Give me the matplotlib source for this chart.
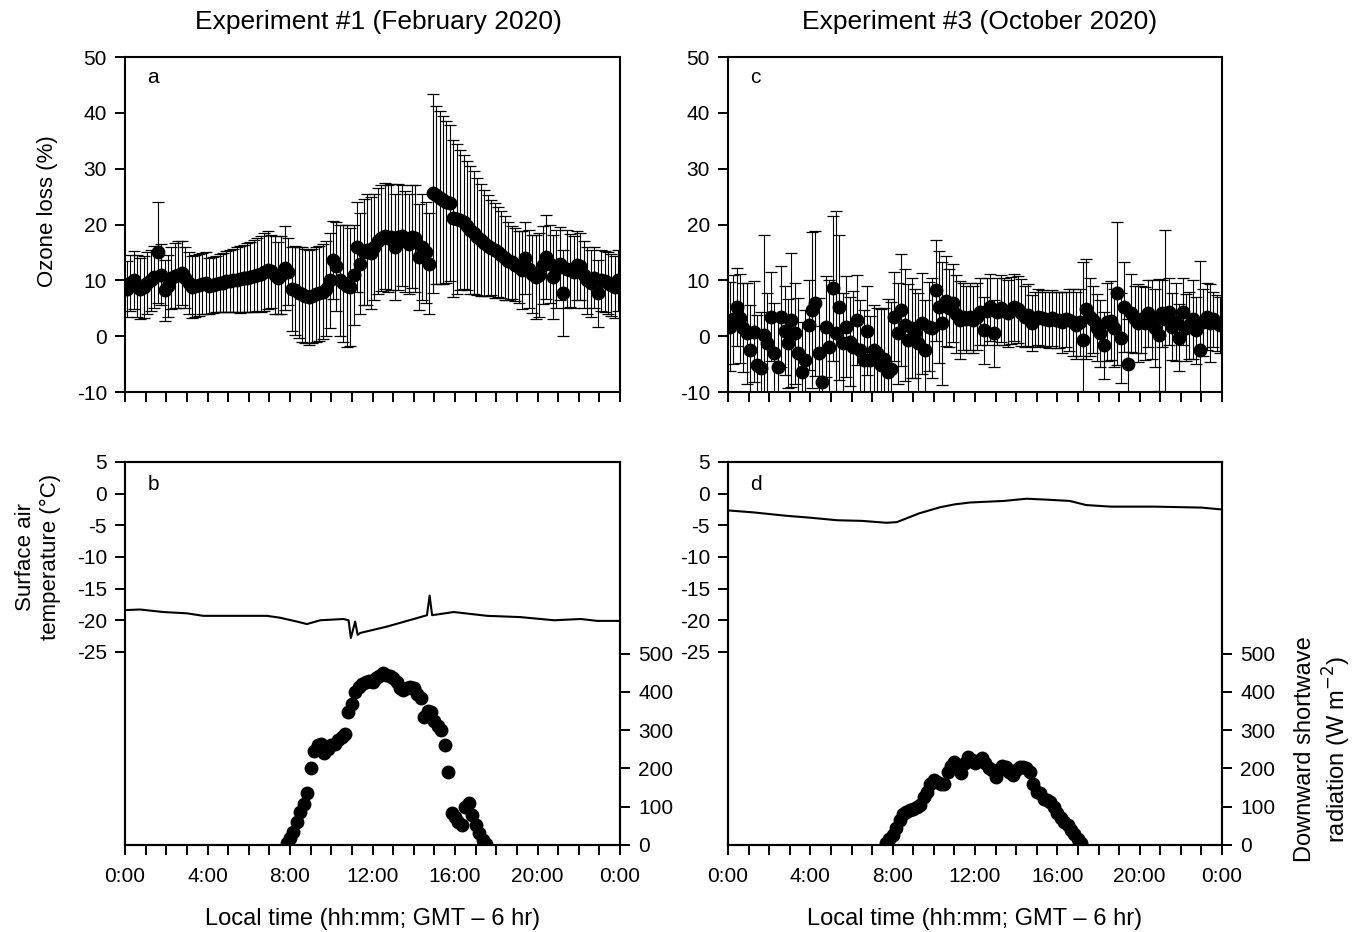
import numpy as np
import matplotlib
matplotlib.use("Agg")
import matplotlib.pyplot as plt

plt.rcParams["font.family"] = ["Liberation Sans", "DejaVu Sans"]
plt.rcParams["axes.unicode_minus"] = False

# ── Data ─────────────────────────────────────────────────────────────────────
# Ozone loss (%), 10-min means and standard deviations, 0:00 -> 24:00
ozone1 = [
    8.5, 9.5, 10.0, 9.0, 8.5, 8.8,
    9.5, 10.0, 10.6, 15.0, 11.0, 8.2,
    9.0, 10.4, 10.8, 11.0, 11.3, 10.5,
    9.5, 8.8, 9.0, 9.2, 9.4, 9.5,
    9.0, 9.2, 9.4, 9.5, 9.6, 9.8,
    9.9, 10.0, 10.1, 10.2, 10.4, 10.5,
    10.6, 10.8, 11.0, 11.2, 11.5, 11.8,
    11.6, 11.0, 10.4, 11.0, 12.2, 11.5,
    8.5, 8.2, 7.8, 7.5, 7.2, 7.0,
    7.2, 7.5, 7.7, 8.0, 8.5, 10.0,
    13.6, 12.5, 10.0, 9.5, 9.0, 8.8,
    11.0, 16.0, 13.0, 15.0, 15.5, 14.9,
    16.0, 17.0, 17.6, 18.0, 17.5, 17.8,
    16.0, 17.8, 18.0, 17.0, 16.5, 17.8,
    17.5, 14.2, 16.0, 15.0, 13.0, 25.6,
    25.3, 24.8, 24.4, 24.0, 23.8, 21.1,
    21.0, 20.8, 20.5, 19.8, 19.0, 18.5,
    17.8, 17.2, 16.7, 16.2, 15.8, 15.4,
    15.1, 14.6, 14.0, 13.5, 13.2, 12.8,
    12.4, 11.8, 14.0, 12.0, 11.2, 10.6,
    11.0, 12.8, 14.2, 13.0, 10.6, 12.0,
    13.0, 7.7, 12.0, 11.8, 11.5, 12.7,
    12.5, 11.0, 10.0, 9.5, 10.5, 7.7,
    10.0, 9.8, 9.5, 9.2, 8.8, 10.0,
]
ozone1_sd = [
    5.0, 5.0, 5.2, 5.5, 5.5, 5.5,
    5.5, 5.5, 5.5, 9.0, 5.5, 5.5,
    5.5, 5.5, 5.8, 6.0, 5.8, 5.5,
    5.5, 5.5, 5.5, 5.5, 5.5, 5.5,
    5.0, 5.0, 5.0, 5.2, 5.3, 5.4,
    5.5, 5.6, 5.8, 6.0, 6.0, 6.2,
    6.2, 6.5, 6.5, 6.8, 7.0, 7.0,
    6.5, 7.0, 6.5, 7.0, 7.5, 6.0,
    7.5, 8.0, 8.2, 8.5, 8.5, 8.5,
    8.5, 8.5, 8.5, 8.5, 8.5, 8.5,
    7.0, 8.0, 10.0, 10.5, 11.0, 10.5,
    9.0, 8.0, 9.0, 9.5, 10.0, 10.0,
    9.5, 9.5, 9.5, 9.5, 9.5, 9.5,
    9.5, 9.5, 9.0, 9.0, 9.0, 9.2,
    9.5, 9.5, 9.5, 9.0, 9.0, 17.8,
    16.0, 15.5, 15.0, 14.5, 14.0, 14.0,
    13.5, 12.5, 12.0, 11.5, 11.5, 11.0,
    10.5, 10.0, 9.5, 9.0, 8.5, 8.5,
    8.0, 7.8, 7.5, 7.0, 6.5, 6.5,
    6.5, 7.0, 6.5, 7.0, 7.0, 7.5,
    7.5, 7.0, 7.5, 7.0, 7.5, 7.0,
    6.5, 7.7, 7.0, 6.5, 6.5, 6.2,
    6.0, 6.0, 6.0, 6.0, 5.5, 6.0,
    5.5, 5.5, 5.5, 5.5, 5.5, 5.5,
]
ozone3 = [
    1.7, 3.0, 5.2, 3.2, 1.5, 0.5,
    -2.5, 0.8, -5.2, -5.7, 0.2, -1.3,
    3.5, -3.1, -5.5, 3.5, 1.0, -1.3,
    2.9, 0.5, -3.1, -6.4, -4.3, 2.0,
    4.7, 5.9, -3.1, -8.2, 1.7, -1.9,
    8.6, 0.5, 5.2, -1.3, 1.7, -1.0,
    -1.9, 2.9, -2.5, -4.3, 1.0, -4.3,
    -2.5, -3.0, -5.2, -4.0, -6.4, -5.8,
    3.5, 0.5, 4.7, 2.0, -0.7, 1.5,
    0.5, -1.3, 2.3, -2.5, 1.7, 1.5,
    8.2, 5.2, 2.3, 6.3, 5.0, 6.0,
    4.0, 2.9, 3.5, 3.0, 3.5, 2.9,
    3.5, 4.4, 1.1, 4.5, 5.2, 0.5,
    4.4, 5.0, 4.5, 4.1, 4.6, 5.2,
    4.8, 4.2, 3.5, 3.8, 2.3, 3.0,
    3.5, 3.2, 3.0, 2.9, 3.2, 2.9,
    2.9, 2.5, 3.0, 2.9, 2.5, 2.0,
    2.5, -0.7, 4.9, 3.5, 2.9, 1.5,
    0.5, -1.6, 2.6, 2.8, 1.5, 7.7,
    -0.3, 5.2, -4.9, 4.1, 3.0, 2.3,
    3.0, 2.3, 4.1, 3.0, 1.5, 0.2,
    4.1, 3.0, 4.4, 1.7, 2.5, -0.3,
    4.4, 1.5, 2.0, 3.0, 1.1, -2.5,
    2.5, 3.5, 2.3, 3.0, 2.3, 2.0,
]
ozone3_sd = [
    8, 8, 7, 8, 8, 9,
    8, 9, 9, 10, 18, 9,
    8, 9, 9, 9, 8, 8,
    12, 9, 10, 9, 9, 8,
    14, 13, 10, 10, 9, 12,
    13, 22, 13, 9, 9, 8,
    10, 8, 9, 9, 8, 8,
    8, 8, 10, 9, 13, 12,
    8, 9, 10, 10, 10, 9,
    8, 9, 9, 9, 8, 9,
    9, 10, 11, 8, 7, 7,
    7, 7, 6, 6, 6, 6,
    6, 6, 6, 6, 6, 6,
    6, 6, 6, 6, 6, 6,
    6, 6, 5.5, 5.5, 5, 5,
    5, 5, 5, 5, 5, 5,
    5, 5.5, 5, 5.5, 6, 6,
    6, 14, 9, 7, 6, 6,
    6, 6, 7, 7, 7, 12.8,
    8, 8, 8, 7, 6, 7,
    6, 6.5, 6, 7, 7, 10,
    6, 16, 6, 6, 7, 6,
    6, 6, 6, 7, 6, 16,
    6, 6, 7, 5, 5, 5,
]
ozone_t = (np.arange(len(ozone1)) + 0.5) / 6.0   # hours

# Surface air temperature (°C)
temp1_t = [0.0, 0.73, 1.86, 2.99, 3.8, 4.61, 6.88, 7.52, 8.33, 8.82, 9.47, 10.6,
           10.84, 10.95, 11.16, 11.28, 11.41, 12.7, 14.0, 14.64, 14.77, 14.89,
           15.94, 17.56, 19.17, 20.8, 22.1, 22.9, 24.0]
temp1 = [-18.4, -18.3, -18.7, -18.9, -19.3, -19.3, -19.3, -19.6, -20.2, -20.6, -20.0,
         -19.8, -20.0, -22.8, -20.2, -22.3, -22.0, -21.0, -19.8, -19.2, -16.1, -19.2,
         -18.7, -19.3, -19.5, -20.0, -19.8, -20.1, -20.1]
temp3_t = [0.0, 1.2, 2.85, 4.0, 5.3, 6.5, 7.7, 8.2, 9.3, 10.3, 11.0, 11.75, 13.4,
           14.5, 15.5, 16.6, 17.4, 18.6, 20.7, 23.0, 24.0]
temp3 = [-2.65, -2.95, -3.5, -3.8, -4.2, -4.3, -4.6, -4.5, -3.1, -2.15, -1.7, -1.4,
         -1.15, -0.8, -0.95, -1.15, -1.8, -2.05, -2.05, -2.2, -2.5]

# Downward shortwave radiation (W m-2), every 10 min
rad1 = [5, 18, 35, 60, 85, 108, 135, 200, 245, 262, 265, 240, 250, 260, 265, 273,
        282, 291, 346, 369, 399, 412, 421, 425, 428, 425, 435, 442, 448, 445, 440,
        435, 425, 410, 404, 410, 413, 411, 395, 383, 333, 350, 346, 325, 310, 299,
        260, 190, 83, 73, 60, 52, 100, 109, 78, 52, 31, 13, 3]
rad1_t = 7 + 50 / 60 + np.arange(len(rad1)) / 6.0
rad3 = [5, 15, 26, 45, 65, 80, 87, 92, 95, 100, 105, 125, 139, 160, 169, 165, 158,
        160, 190, 205, 217, 205, 187, 215, 230, 222, 213, 220, 226, 215, 200, 195,
        178, 195, 205, 204, 190, 182, 195, 204, 204, 200, 191, 160, 139, 135, 120,
        117, 113, 100, 83, 70, 60, 52, 40, 30, 15, 5]
rad3_t = 7 + 40 / 60 + np.arange(len(rad3)) / 6.0

# ── Layout ───────────────────────────────────────────────────────────────────
W, H = 1354, 932
fig = plt.figure(figsize=(W / 100, H / 100), dpi=100)


def box(l, t, r, b):
    return [l / W, 1 - b / H, (r - l) / W, (b - t) / H]


ax_a = fig.add_axes(box(125, 57, 620, 392))
ax_c = fig.add_axes(box(728, 57, 1222, 392))
ax_b = fig.add_axes(box(125, 462, 620, 845))
ax_d = fig.add_axes(box(728, 462, 1222, 845))

TICK_FS = 15
TICK_LEN = 7
TICK_PAD = 6


def style(ax):
    for s in ax.spines.values():
        s.set_linewidth(1.5)
    ax.set_xlim(0, 24)
    ax.set_xticks(range(0, 25, 4))
    ax.set_xticks(range(25), minor=True)
    ax.set_xticklabels(["0:00", "4:00", "8:00", "12:00", "16:00", "20:00", "0:00"])
    ax.tick_params(which="both", direction="out", length=TICK_LEN, width=1.4,
                   labelsize=TICK_FS, pad=TICK_PAD, top=False, right=False)
    ax.tick_params(axis="x", which="both", pad=9)


# ── Ozone panels ─────────────────────────────────────────────────────────────
for ax, m, sd, letter in [(ax_a, ozone1, ozone1_sd, "a"), (ax_c, ozone3, ozone3_sd, "c")]:
    style(ax)
    ax.errorbar(ozone_t, m, yerr=sd, fmt="o", color="black", ms=9,
                ecolor="black", elinewidth=0.8, capsize=4.5, capthick=0.9)
    ax.set_ylim(-10, 50)
    ax.set_yticks(range(-10, 51, 10))
    ax.tick_params(labelbottom=False)
    ax.text(0.045, 0.94, letter, transform=ax.transAxes, fontsize=15, va="center")

ax_a.set_ylabel("Ozone loss (%)", fontsize=16)
ax_a.yaxis.set_label_coords(-0.135, 0.54)

# ── Temperature / radiation panels ───────────────────────────────────────────
for ax, tt, tv, rt, rv, letter in [(ax_b, temp1_t, temp1, rad1_t, rad1, "b"),
                                   (ax_d, temp3_t, temp3, rad3_t, rad3, "d")]:
    style(ax)
    ax.plot(tt, tv, color="black", lw=1.5)
    ax.set_ylim(-55.5, 5)
    ax.set_yticks(range(-25, 6, 5))
    ax.set_xlabel("Local time (hh:mm; GMT – 6 hr)", fontsize=17, labelpad=16)
    ax.text(0.045, 0.94, letter, transform=ax.transAxes, fontsize=15, va="center")

    tw = ax.twinx()
    tw.plot(rt, rv, "o", color="black", ms=9)
    tw.set_ylim(0, 1000)
    tw.set_yticks(range(0, 501, 100))
    tw.tick_params(direction="out", length=TICK_LEN, width=1.4, labelsize=TICK_FS,
                   pad=TICK_PAD)
    for s in tw.spines.values():
        s.set_linewidth(1.5)
    if ax is ax_d:
        tw.set_ylabel("Downward shortwave\nradiation (W m$^{-2}$)", fontsize=17)
        tw.yaxis.set_label_coords(1.145, 0.25)

ax_b.set_ylabel("Surface air\ntemperature (°C)", fontsize=16)
ax_b.yaxis.set_label_coords(-0.13, 0.752)

fig.text(378 / W, 1 - 22 / H, "Experiment #1 (February 2020)", fontsize=19,
         ha="center", va="center")
fig.text(980 / W, 1 - 22 / H, "Experiment #3 (October 2020)", fontsize=19,
         ha="center", va="center")

fig.savefig("out.png", dpi=100)
